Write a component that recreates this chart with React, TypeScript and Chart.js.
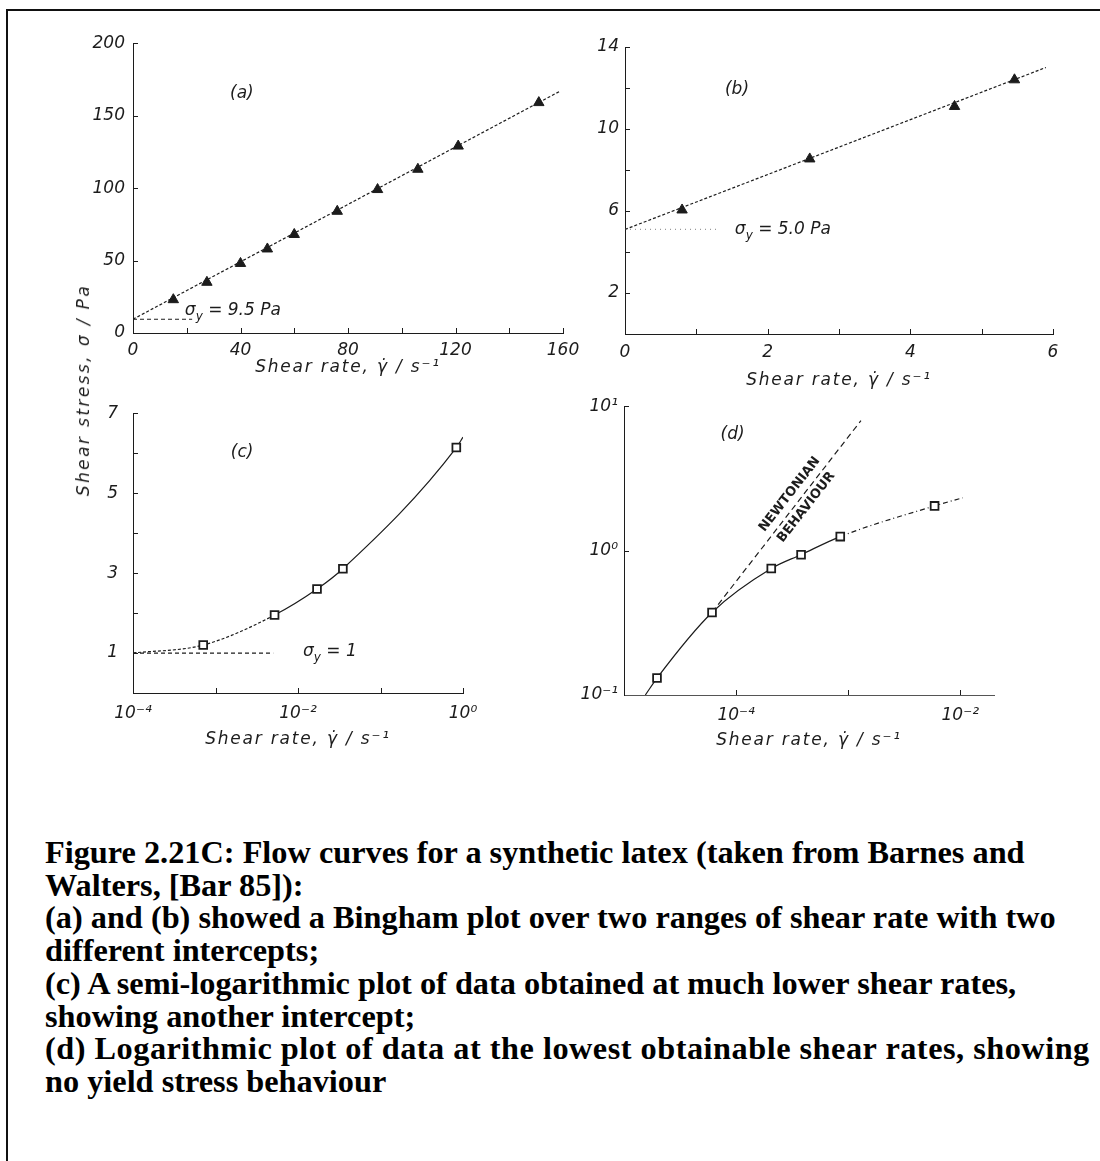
import React, { useEffect, useRef } from 'react';
import { Chart, registerables } from 'chart.js';

Chart.register(...registerables);

const FONT = '"DejaVu Sans", sans-serif';
const INK = '#1c1c1c';

// ---------- Panel (a): Bingham plot, high shear rates ----------
const rateA = [15, 27.5, 40, 50, 60, 76, 91, 106, 121, 151];
const stressA = [23, 35, 48, 58, 68, 84, 99, 113, 129, 159];
const fitRateA = [0, 159];
const fitStressA = [9.5, 167];
const yieldRateA = [0, 22];
const yieldStressA = [9.5, 9.5];
const xTicksA = [0, 20, 40, 60, 80, 100, 120, 140, 160];
const xLabelsA = [0, 40, 80, 120, 160];
const yTicksA = [0, 50, 100, 150, 200];
const yLabelsA = [0, 50, 100, 150, 200];

// ---------- Panel (b): Bingham plot, lower shear rates ----------
const rateB = [0.8, 2.59, 4.62, 5.46];
const stressB = [6.05, 8.54, 11.1, 12.4];
const fitRateB = [0, 5.9];
const fitStressB = [5.1, 13.0];
const yieldRateB = [0, 1.3];
const yieldStressB = [5.1, 5.1];
const xTicksB = [0, 1, 2, 3, 4, 5, 6];
const xLabelsB = [0, 2, 4, 6];
const yTicksB = [0, 2, 4, 6, 8, 10, 12, 14];
const yLabelsB = [2, 6, 10, 14];

// ---------- Panel (c): semi-logarithmic plot ----------
const rateC = [7.1e-4, 5.2e-3, 0.017, 0.035, 0.83];
const stressC = [1.2, 1.95, 2.6, 3.11, 6.14];
const curveRateC = [1e-4, 7.1e-4, 5.2e-3, 0.017, 0.035, 0.83, 1.0];
const curveStressC = [1.0, 1.2, 1.95, 2.6, 3.11, 6.14, 6.4];
const yieldRateC = [1e-4, 5e-3];
const yieldStressC = [1, 1];
const xTicksC = [1e-4, 1e-3, 1e-2, 1e-1, 1];
const xLabelsC = [1e-4, 1e-2, 1];
const yTicksC = [0, 1, 2, 3, 4, 5, 6, 7];
const yLabelsC = [1, 3, 5, 7];

// ---------- Panel (d): logarithmic plot ----------
const rateD = [1.97e-5, 6.1e-5, 2.06e-4, 3.8e-4, 8.5e-4, 5.9e-3];
const stressD = [0.131, 0.373, 0.751, 0.937, 1.25, 2.04];
const curveRateD = [1.55e-5, 1.97e-5, 6.1e-5, 2.06e-4, 3.8e-4, 8.5e-4, 5.9e-3, 1.05e-2];
const curveStressD = [0.1, 0.131, 0.373, 0.751, 0.937, 1.25, 2.04, 2.32];
const newtRateD = [6.1e-5, 1.3e-3];
const newtStressD = [0.373, 7.95];
const xTicksD = [1e-5, 1e-4, 1e-3, 1e-2];
const xLabelsD = [1e-4, 1e-2];
const yTicksD = [0.1, 1, 10];
const yLabelsD = [0.1, 1, 10];

const X_TITLE = 'Shear rate, \u03B3\u0307 / s\u207B\u00B9';
const Y_TITLE = 'Shear stress, \u03C3 / Pa';

const CAPTION = [
  'Figure 2.21C: Flow curves for a synthetic latex (taken from Barnes and',
  'Walters, [Bar 85]):',
  '(a) and (b) showed a Bingham plot over two ranges of shear rate with two',
  'different intercepts;',
  '(c) A semi-logarithmic plot of data obtained at much lower shear rates,',
  'showing another intercept;',
  '(d) Logarithmic plot of data at the lowest obtainable shear rates, showing',
  'no yield stress behaviour',
];

const SUP: Record<string, string> = {
  '0': '\u2070', '1': '\u00B9', '2': '\u00B2', '3': '\u00B3', '4': '\u2074',
  '5': '\u2075', '6': '\u2076', '7': '\u2077', '8': '\u2078', '9': '\u2079', '-': '\u207B',
};

const same = (a: number, b: number) =>
  Math.abs(a - b) <= 1e-9 * Math.max(1, Math.abs(a), Math.abs(b)) || (b !== 0 && Math.abs(a / b - 1) < 1e-6);
const pow10 = (v: number) => '10' + String(Math.round(Math.log10(v))).split('').map((c) => SUP[c]).join('');
const pts = (xs: number[], ys: number[]) => xs.map((x, i) => ({ x, y: ys[i] }));

type AxisSpec = {
  log?: boolean; min: number; max: number; ticks: number[]; labels: number[];
  padding: number; size: number; dash?: number[]; color?: string;
};

type Part = { t: string; sub?: boolean };
type Item = {
  x: number; y: number; parts: Part[]; align?: 'left' | 'center'; size?: number;
  style?: string; weight?: string; along?: [number, number, number, number]; dy?: number;
};

function scaleCfg(ax: AxisSpec, isX: boolean, title?: string) {
  return {
    type: ax.log ? 'logarithmic' : 'linear',
    position: isX ? 'bottom' : 'left',
    min: ax.min,
    max: ax.max,
    offset: false,
    grid: { display: false, drawTicks: false },
    border: { display: true, color: ax.color || INK, width: 1, dash: ax.dash || [] },
    ticks: {
      z: 1,
      autoSkip: false,
      maxRotation: 0,
      minRotation: 0,
      padding: ax.padding,
      color: INK,
      font: { family: FONT, size: 17, style: 'italic' },
      callback: (v: any) => {
        const n = Number(v);
        if (!ax.labels.some((l) => same(l, n))) return '';
        return ax.log ? pow10(n) : String(n);
      },
    },
    afterBuildTicks: (s: any) => {
      s.ticks = ax.ticks.map((v) => ({ value: v }));
    },
    afterFit: (s: any) => {
      if (isX) s.height = ax.size;
      else s.width = ax.size;
    },
    title: title
      ? { display: true, text: title, color: INK, font: { family: FONT, size: 17, style: 'italic' }, padding: 0 }
      : { display: false },
  };
}

// Axis titles are drawn in the grid layer (before datasets); give them the
// wide letter spacing of the original lettering, then reset for everything else.
const titleSpacing = {
  id: 'titleSpacing',
  beforeDraw(chart: any) {
    chart.ctx.letterSpacing = '1.8px';
  },
  beforeDatasetsDraw(chart: any) {
    chart.ctx.letterSpacing = '0px';
  },
};

const innerTicks = {
  id: 'innerTicks',
  afterDraw(chart: any) {
    const ctx = chart.ctx;
    const area = chart.chartArea;
    ctx.save();
    ctx.strokeStyle = INK;
    ctx.lineWidth = 1;
    Object.keys(chart.scales).forEach((id) => {
      const s = chart.scales[id];
      s.ticks.forEach((t: any) => {
        const p = s.getPixelForValue(t.value);
        ctx.beginPath();
        if (s.isHorizontal()) {
          if (Math.abs(p - area.left) < 1) return;
          const xp = Math.round(p) + 0.5;
          ctx.moveTo(xp, s.top);
          ctx.lineTo(xp, s.top - 5);
        } else {
          if (Math.abs(p - area.bottom) < 1) return;
          const yp = Math.round(p) + 0.5;
          ctx.moveTo(s.right, yp);
          ctx.lineTo(s.right + 5, yp);
        }
        ctx.stroke();
      });
    });
    ctx.restore();
  },
};

function annotations(items: Item[]) {
  return {
    id: 'annot',
    afterDraw(chart: any) {
      const ctx = chart.ctx;
      const xs = chart.scales.x;
      const ys = chart.scales.y;
      items.forEach((it) => {
        const px = xs.getPixelForValue(it.x);
        const py = ys.getPixelForValue(it.y);
        const size = it.size || 17;
        const style = it.style || 'italic';
        const weight = it.weight || 'normal';
        ctx.save();
        ctx.letterSpacing = '0px';
        ctx.translate(px, py);
        if (it.along) {
          const [x0, y0, x1, y1] = it.along;
          const a = Math.atan2(
            ys.getPixelForValue(y1) - ys.getPixelForValue(y0),
            xs.getPixelForValue(x1) - xs.getPixelForValue(x0)
          );
          ctx.rotate(a);
        }
        ctx.fillStyle = INK;
        ctx.textBaseline = 'middle';
        ctx.textAlign = 'left';
        const fontFor = (p: Part) => `${style} ${weight} ${p.sub ? Math.round(size * 0.72) : size}px ${FONT}`;
        let total = 0;
        it.parts.forEach((p) => {
          ctx.font = fontFor(p);
          total += ctx.measureText(p.t).width;
        });
        let cx = it.align === 'center' ? -total / 2 : 0;
        const dy = it.dy || 0;
        it.parts.forEach((p) => {
          ctx.font = fontFor(p);
          ctx.fillText(p.t, cx, dy + (p.sub ? size * 0.35 : 0));
          cx += ctx.measureText(p.t).width;
        });
        ctx.restore();
      });
    },
  };
}

const markers = (xs: number[], ys: number[], style: string) => ({
  data: pts(xs, ys),
  showLine: false,
  pointStyle: style,
  pointRadius: style === 'triangle' ? 6 : 5.5,
  pointBorderWidth: style === 'triangle' ? 1 : 1.8,
  pointBackgroundColor: style === 'triangle' ? INK : '#ffffff',
  pointBorderColor: INK,
});

const line = (xs: number[], ys: number[], dash: number[], extra: any = {}) => ({
  data: pts(xs, ys),
  showLine: true,
  pointRadius: 0,
  borderColor: INK,
  borderWidth: 1.2,
  borderDash: dash,
  fill: false,
  ...extra,
});

type PanelSpec = {
  box: { left: number; top: number; width: number; height: number };
  pad: { top: number; right: number };
  x: AxisSpec;
  y: AxisSpec;
  datasets: any[];
  items: Item[];
};

const sigma = (rest: string): Part[] => [{ t: '\u03C3' }, { t: 'y', sub: true }, { t: rest }];
const newtAlong: [number, number, number, number] = [newtRateD[0], newtStressD[0], newtRateD[1], newtStressD[1]];

const panels: PanelSpec[] = [
  {
    box: { left: 73, top: 25, width: 515, height: 353 },
    pad: { top: 18, right: 25 },
    x: { min: 0, max: 160, ticks: xTicksA, labels: xLabelsA, padding: 7, size: 45, dash: [2, 2] },
    y: { min: 0, max: 200, ticks: yTicksA, labels: yLabelsA, padding: 8, size: 60, dash: [2, 2] },
    datasets: [
      markers(rateA, stressA, 'triangle'),
      line(fitRateA, fitStressA, [3, 2]),
      line(yieldRateA, yieldStressA, [4, 3]),
    ],
    items: [
      { x: 40.5, y: 165.5, parts: [{ t: '(a)' }], align: 'center' },
      { x: 19.3, y: 15.2, parts: sigma(' = 9.5 Pa') },
    ],
  },
  {
    box: { left: 575, top: 30, width: 503, height: 361 },
    pad: { top: 17, right: 25 },
    x: { min: 0, max: 6, ticks: xTicksB, labels: xLabelsB, padding: 8, size: 57, dash: [2, 2] },
    y: { min: 0, max: 14, ticks: yTicksB, labels: yLabelsB, padding: 6, size: 50, dash: [2, 2] },
    datasets: [
      markers(rateB, stressB, 'triangle'),
      line(fitRateB, fitStressB, [3, 2]),
      line(yieldRateB, yieldStressB, [1, 4], { borderColor: '#9a9a9a' }),
    ],
    items: [
      { x: 1.57, y: 11.9, parts: [{ t: '(b)' }], align: 'center' },
      { x: 1.54, y: 5.07, parts: sigma(' = 5.0 Pa') },
    ],
  },
  {
    box: { left: 73, top: 388, width: 415, height: 362 },
    pad: { top: 15, right: 25 },
    x: { log: true, min: 1e-4, max: 1, ticks: xTicksC, labels: xLabelsC, padding: 10, size: 57 },
    y: { min: 0, max: 7, ticks: yTicksC, labels: yLabelsC, padding: 15, size: 60 },
    datasets: [
      markers(rateC, stressC, 'rect'),
      line(curveRateC, curveStressC, [], {
        cubicInterpolationMode: 'monotone',
        segment: { borderDash: (c: any) => (c.p0DataIndex < 2 ? [3, 2] : undefined) },
      }),
      line(yieldRateC, yieldStressC, [4, 3]),
    ],
    items: [
      { x: 2.1e-3, y: 6.02, parts: [{ t: '(c)' }], align: 'center' },
      { x: 0.0115, y: 1.04, parts: sigma(' = 1') },
    ],
  },
  {
    box: { left: 569, top: 390, width: 450, height: 361 },
    pad: { top: 15, right: 25 },
    x: { log: true, min: 1e-5, max: 0.02, ticks: xTicksD, labels: xLabelsD, padding: 10, size: 56, dash: [2, 6], color: '#555' },
    y: { log: true, min: 0.1, max: 10, ticks: yTicksD, labels: yLabelsD, padding: 6, size: 55 },
    datasets: [
      markers(rateD, stressD, 'rect'),
      line(curveRateD, curveStressD, [], {
        cubicInterpolationMode: 'monotone',
        segment: { borderDash: (c: any) => (c.p0DataIndex >= 5 ? [5, 3, 1, 3] : undefined) },
      }),
      line(newtRateD, newtStressD, [6, 4]),
    ],
    items: [
      { x: 9.3e-5, y: 6.4, parts: [{ t: '(d)' }], align: 'center' },
      {
        x: 3.6e-4, y: 2.2, parts: [{ t: 'NEWTONIAN' }], align: 'center', size: 13, style: 'normal', weight: 'bold',
        along: newtAlong, dy: -11,
      },
      {
        x: 3.6e-4, y: 2.2, parts: [{ t: 'BEHAVIOUR' }], align: 'center', size: 13, style: 'normal', weight: 'bold',
        along: newtAlong, dy: 10,
      },
    ],
  },
];

function Panel({ spec }: { spec: PanelSpec }) {
  const ref = useRef<HTMLCanvasElement>(null);
  useEffect(() => {
    if (!ref.current) return;
    const chart = new Chart(ref.current, {
      type: 'scatter',
      data: { datasets: spec.datasets },
      options: {
        responsive: false,
        animation: false,
        devicePixelRatio: 1,
        events: [],
        layout: { padding: { top: spec.pad.top, right: spec.pad.right, left: 0, bottom: 0 } },
        plugins: { legend: { display: false }, tooltip: { enabled: false } },
        scales: {
          x: scaleCfg(spec.x, true, X_TITLE) as any,
          y: scaleCfg(spec.y, false) as any,
        },
      },
      plugins: [titleSpacing, innerTicks, annotations(spec.items)],
    } as any);
    return () => chart.destroy();
  }, [spec]);
  const b = spec.box;
  return (
    <canvas
      ref={ref}
      width={b.width}
      height={b.height}
      style={{ position: 'absolute', left: b.left, top: b.top, width: b.width, height: b.height }}
    />
  );
}

export default function App() {
  return (
    <div
      style={{
        position: 'absolute', left: 0, top: 0, width: 1100, height: 1161,
        background: '#ffffff', overflow: 'hidden',
      }}
    >
      <div
        style={{
          position: 'absolute', left: 6, top: 9, width: 1100, height: 1160,
          borderLeft: '2px solid #111', borderTop: '2px solid #111',
        }}
      />
      {panels.map((p, i) => (
        <Panel key={i} spec={p} />
      ))}
      <div
        style={{
          position: 'absolute', left: 83, top: 390, whiteSpace: 'nowrap',
          transform: 'translate(-50%, -50%) rotate(-90deg)',
          fontFamily: FONT, fontStyle: 'italic', fontSize: 17, letterSpacing: '2.4px', color: INK,
        }}
      >
        {Y_TITLE}
      </div>
      <div
        style={{
          position: 'absolute', left: 45, top: 836,
          fontFamily: '"Liberation Serif", "Times New Roman", serif',
          fontWeight: 'bold', fontSize: 32.3, lineHeight: '32.7px', color: '#000',
        }}
      >
        {CAPTION.map((l, i) => (
          <div key={i} style={{ whiteSpace: 'nowrap', letterSpacing: i === 6 ? '0.5px' : undefined }}>{l}</div>
        ))}
      </div>
    </div>
  );
}
